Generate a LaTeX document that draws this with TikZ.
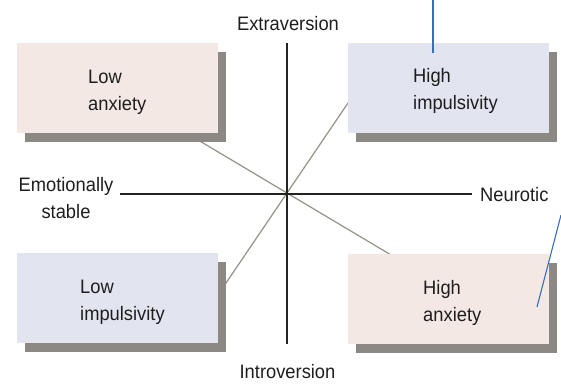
\documentclass[tikz,border=0pt]{standalone}
\usepackage{fontspec}
\setmainfont{Liberation Sans}[FakeStretch=0.94]
\usepackage{tikz}
\usetikzlibrary{shadows,backgrounds}
\definecolor{pinkfill}{RGB}{243,232,228}
\definecolor{lavfill}{RGB}{226,228,240}
\definecolor{shadegray}{RGB}{140,136,132}
\definecolor{axisdark}{RGB}{35,35,35}
\definecolor{diaggray}{RGB}{150,145,135}
\definecolor{penblue}{RGB}{55,110,190}
\definecolor{textdark}{RGB}{30,30,30}

\begin{document}
\begin{tikzpicture}[x=1pt, y=-1pt,
		lbl/.style={inner sep=0pt, text=textdark, font=\fontsize{19.5}{27}\selectfont},
		quad/.style={anchor=north west, minimum width=201pt, minimum height=90pt, inner sep=0pt,
			drop shadow={shadow xshift=7.5pt, shadow yshift=-9pt, fill=shadegray, opacity=1}},
		axis/.style={line width=1.6pt, color=axisdark},
		diag/.style={line width=1.2pt, color=diaggray},
		pen/.style={line width=1.1pt, color=penblue}]
		%%%%% START %%%%%
		
		\useasboundingbox (0, 0) rectangle (561, 383);
		
		\coordinate (o) at (287, 193);
		
		% boxes
		\node[quad, fill=pinkfill] (lowanx) at (17, 43) {};
		\node[quad, fill=lavfill] (highimp) at (348, 43) {};
		\node[quad, fill=lavfill] (lowimp) at (17, 253) {};
		\node[quad, fill=pinkfill] (highanx) at (348, 254) {};
		
		\node[lbl, anchor=north west, align=left] (lowanxtxt) at (88, 70) {Low\\anxiety};
		\node[lbl, anchor=north west, align=left] (highimptxt) at (413, 68) {High\\impulsivity};
		\node[lbl, anchor=north west, align=left] (lowimptxt) at (80, 280) {Low\\impulsivity};
		\node[lbl, anchor=north west, align=left] (highanxtxt) at (423, 280) {High\\anxiety};
		
		% axis labels
		\node[lbl, anchor=base] (ext) at (288, 30) {Extraversion};
		\node[lbl, anchor=base] (intro) at (287.5, 378) {Introversion};
		\node[lbl, anchor=north, align=center] (emo) at (66, 177) {Emotionally\\stable};
		\node[lbl, anchor=base west] (neu) at (480, 201) {Neurotic};
		
		\coordinate (top) at (287, 43);
		\coordinate (bot) at (287, 344);
		\coordinate (left) at (120, 194);
		\coordinate (right) at (472, 194);
		
		% lines behind the boxes
		\coordinate (d1a) at (99, 81);
		\coordinate (d1b) at (475, 305);
		\coordinate (d2a) at (378.5, 58);
		\coordinate (d2b) at (195.5, 328);
		\begin{scope}[on background layer]
			\draw[diag] (d1a) -- (o) -- (d1b);
			\draw[diag] (d2a) -- (o) -- (d2b);
		\end{scope}
		
		\draw[axis] (top) -- (bot);
		\draw[axis] (left) -- (right);
		
		% pen marks
		\coordinate (p1a) at (433, 0);
		\coordinate (p1b) at (433, 53);
		\coordinate (p2a) at (561, 215);
		\coordinate (p2b) at (537, 307);
		\draw[pen] (p1a) -- (p1b);
		\draw[pen] (p2a) -- (p2b);
		
		%%%%% END %%%%%
	\end{tikzpicture}
\end{document}
